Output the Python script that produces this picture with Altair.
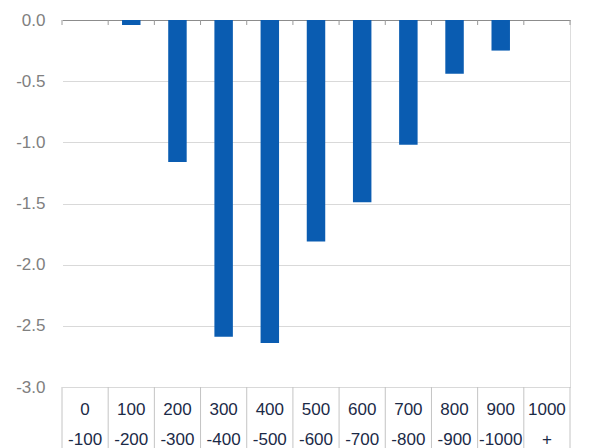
import altair as alt
import pandas as pd

# Distance bands (two-line labels split on "|") and their values
bands = ["0|-100", "100|-200", "200|-300", "300|-400", "400|-500",
         "500|-600", "600|-700", "700|-800", "800|-900", "900|-1000", "1000|+"]
values = [0.0, -0.04, -1.16, -2.59, -2.64, -1.81, -1.49, -1.02, -0.44, -0.25, 0.0]
y_ticks = [0.0, -0.5, -1.0, -1.5, -2.0, -2.5, -3.0]

df = pd.DataFrame({"band": bands, "value": values})

FONT = "Liberation Sans"
PLOT_H = 367

# bands fill the whole width so that band edges fall on the category separators
x_scale = alt.Scale(paddingInner=0, paddingOuter=0)
y_scale = alt.Scale(domain=[-3.0, 0.0], nice=False)

bottom_axis = alt.Axis(
    orient="bottom", title=None, labelAngle=0,
    labelExpr="split(datum.label, '|')",
    labelFont=FONT, labelFontSize=17, labelColor="#1B2A47",
    labelLineHeight=30, labelPadding=14,
    domainColor="#D9D9D9", domainWidth=1,
    ticks=False, grid=False,
)

# the zero gridline doubles as the darker baseline; the vertical domain is blanked out
y_axis = alt.Axis(
    title=None, values=y_ticks,
    labelExpr="datum.value < 0 ? '-' + format(-datum.value, '.1f') : format(datum.value, '.1f')",
    labelFont=FONT, labelFontSize=17, labelColor="#808080", labelPadding=17,
    ticks=False, domain=True, domainColor="white", domainWidth=1, zindex=0,
    grid=True, gridWidth=1,
    gridColor={"condition": {"test": "datum.value === 0", "value": "#8C8C8C"},
               "value": "#D9D9D9"},
)

bars = alt.Chart(df).mark_bar(color="#0A5CB1", width=alt.RelativeBandSize(0.4)).encode(
    x=alt.X("band:N", sort=bands, scale=x_scale, axis=bottom_axis),
    y=alt.Y("value:Q", scale=y_scale, axis=y_axis),
)


def separators(y_top, y_bottom, color):
    """Vertical separators at every band edge between two pixel rows."""
    left = alt.Chart(df).mark_rule(color=color, strokeWidth=1).encode(
        x=alt.X("band:N", sort=bands, scale=x_scale, bandPosition=0),
        y=alt.value(y_top),
        y2=alt.value(y_bottom),
    )
    right = alt.Chart(df.tail(1)).mark_rule(color=color, strokeWidth=1).encode(
        x=alt.X("band:N", sort=bands, scale=x_scale, bandPosition=1),
        y=alt.value(y_top),
        y2=alt.value(y_bottom),
    )
    return [left, right]


# short ticks under the zero line and the table lines between the category labels
top_ticks = separators(0, 5, "#9A9A9A")
label_grid = separators(PLOT_H, PLOT_H + 61, "#C4C4C4")

chart = alt.layer(bars, *top_ticks, *label_grid).properties(
    width=508, height=PLOT_H,
    autosize=alt.AutoSizeParams(type="none"),
    padding={"left": 62, "top": 20, "right": 25, "bottom": 61},
).configure_view(strokeOpacity=0).configure(background="white")

chart.save("out.html", embed_options={"renderer": "svg", "actions": False})
